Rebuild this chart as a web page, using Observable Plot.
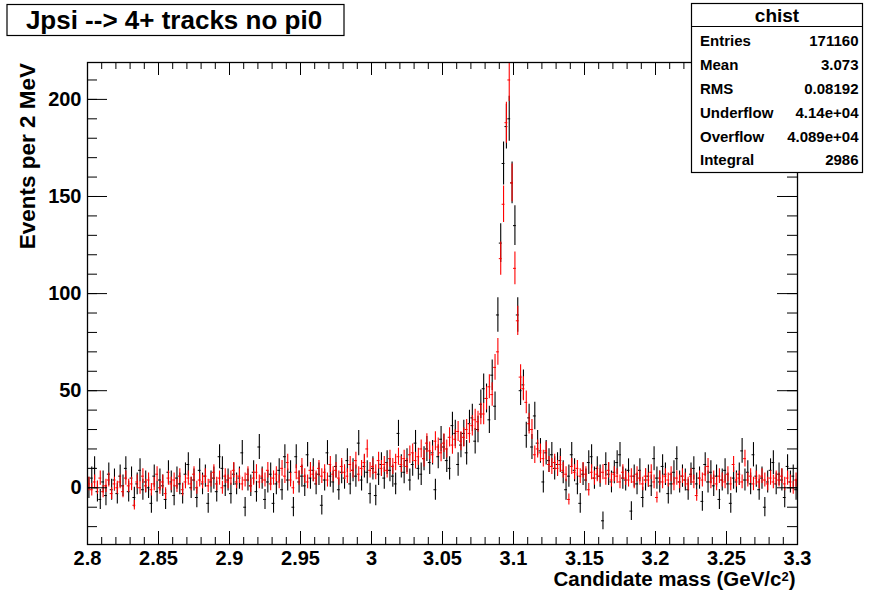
<!DOCTYPE html>
<html><head><meta charset="utf-8">
<script src="https://cdn.jsdelivr.net/npm/d3@7"></script>
<script src="https://cdn.jsdelivr.net/npm/@observablehq/plot@0.6"></script>
<style>
html,body{margin:0;padding:0;background:#fff;}
#chart{position:relative;width:869px;height:602px;}
</style></head><body><div id="chart"></div>
<script>
// ---- data ----
const titleText = "Jpsi --> 4+ tracks no pi0";
const statsName = "chist";
const statsLabels = ["Entries", "Mean", "RMS", "Underflow", "Overflow", "Integral"];
const statsValues = ["171160", "3.073", "0.08192", "4.14e+04", "4.089e+04", "2986"];
const xTitle = "Candidate mass (GeV/c";
const xTitleSup = "2";
const xTitleEnd = ")";
const yTitle = "Events per 2 MeV";
const xTicks = [2.8, 2.85, 2.9, 2.95, 3.0, 3.05, 3.1, 3.15, 3.2, 3.25, 3.3];
const xTickLabels = ["2.8", "2.85", "2.9", "2.95", "3", "3.05", "3.1", "3.15", "3.2", "3.25", "3.3"];
const yTicks = [0, 50, 100, 150, 200];
const yTickLabels = ["0", "50", "100", "150", "200"];
const xStart = 2.8;
const binWidth = 0.002;

const blackCounts = [
  0, 5, 10, -2, -6, 3, -4, 7, -1, 4,
  -3, 6, 1, 10, -2, 5, -5, 2, 9, -1,
  3, 0, -8, 6, -2, 4, 1, -6, 8, 3,
  -4, 5, 2, -3, 7, 12, 0, 4, -5, 9,
  2, 6, -8, 3, 5, -2, 16, 10, 1, 4,
  -3, 7, 2, 5, 18, -10, 4, 1, 8, -2,
  21, 5, -6, 3, 7, -8, 2, 9, -1, 16,
  4, 8, -10, 16, 3, 6, 1, 17, 5, 9,
  2, 7, -9, 4, 18, 6, 3, 11, -1, 8,
  5, 14, 2, 9, 6, 23, 4, 11, 8, -3,
  10, -4, 7, 12, 5, 13, 9, 6, 2, 28,
  11, 8, 14, 4, 12, 23, 10, 7, 15, 20,
  13, 18, -1, 16, 25, 21, 14, 10, 32, 28,
  12, 22, 28, 18, 33, 36, 24, 30, 43, 51,
  46, 35, 58, 42, 89, 126, 167, 186, 190, 157,
  135, 89, 50, 53, 27, 36, 21, 37, 23, 19,
  3, 18, 14, 17, 10, 12, 14, 8, -1, 6,
  17, 9, 2, -8, 7, 4, 13, 16, 5, 10,
  6, -17, 12, 7, 3, 8, 13, 17, 5, 4,
  9, -12, 6, 2, 9, -5, 4, 6, 1, 15,
  5, 3, 11, 7, -3, 2, 8, 15, 3, 6,
  4, -1, 7, 10, 2, 5, -7, 12, 3, 8,
  1, 6, -6, 4, 9, 2, -8, 5, 3, 7,
  19, 4, 8, 2, 17, 6, -1, 5, -10, 3,
  9, 13, 2, 7, 4, -5, 11, 3, 6, -1
];
const redCounts = [
  2, -1, 3, 0, 5, -2, 1, 4, -3, 2,
  0, 3, -2, 5, 1, 2, -9, 3, 0, 6,
  1, 4, -1, 2, 7, 0, 3, -3, 5, 2,
  4, 1, 6, -1, 3, 5, 2, 7, 0, 4,
  3, 6, 1, 4, 8, 2, 5, 0, 6, 3,
  5, 9, 3, 6, 2, 4, 7, 1, 5, 8,
  3, 6, 4, 9, 2, 5, 7, 3, 10, 6,
  13, 4, 0, 8, 5, 11, 6, 3, 9, 7,
  5, 10, 6, 8, 4, 12, 7, 9, 5, 11,
  8, 6, 12, 9, 14, 7, 10, 13, 20, 9,
  11, 8, 14, 10, 12, 9, 15, 11, 13, 16,
  12, 15, 11, 17, 18, 14, 16, 20, 15, 23,
  19, 17, 24, 21, 18, 23, 20, 26, 22, 25,
  29, 24, 26, 30, 28, 32, 35, 34, 38, 38,
  46, 52, 48, 62, 70, 118, 146, 188, 210, 157,
  113, 86, 57, 51, 44, 33, 30, 17, 20, 18,
  15, 19, 12, 11, 13, 10, 12, 9, 7, -6,
  11, 8, 10, 6, 9, 7, -1, 8, 5, 7,
  6, 8, 5, 9, 4, 7, 6, 3, 8, 5,
  4, 6, 3, 7, 5, 2, 6, 4, 8, 3,
  -5, 5, 3, 6, 4, 7, 2, 5, 3, 6,
  4, 2, 6, 3, -4, 5, 4, 7, 11, 3,
  5, 2, 6, 4, 3, 7, 2, 12, 4, 5,
  3, 15, 4, 6, 2, 5, 3, 6, 4, 2,
  5, 3, 5, 4, 6, 2, 5, 3, 0, 4
];

// ---- layout ----
const FONT = "'Liberation Sans', Arial, Helvetica, sans-serif";
const W = 869, H = 602, mL = 87, mR = 72, mT = 62, mB = 58;
const FW = W - mL - mR, FH = H - mT - mB;

// statistical error bars (Poisson-like: background-subtracted counts)
const errBlack = v => Math.sqrt(30 + 0.55 * v);
const errRed = v => Math.sqrt(11 + 0.53 * v);

const bins = blackCounts.map((v, i) => ({
  lo: xStart + i * binWidth,
  hi: xStart + (i + 1) * binWidth,
  x: xStart + (i + 0.5) * binWidth,
  b: v, eb: errBlack(v),
  r: redCounts[i], er: errRed(redCounts[i])
}));

const xMajor = xTicks;
const xMinor = d3.range(0, 51).map(k => 2.8 + k * 0.01);
const yMajor = yTicks;
const yMinor = d3.range(-20, 220, 10);
const lookup = (arr, labels) => d => { const k = arr.findIndex(t => Math.abs(t - d) < 1e-9); return k < 0 ? "" : labels[k]; };

const plot = Plot.plot({
  width: W, height: H,
  marginLeft: mL, marginRight: mR, marginTop: mT, marginBottom: mB,
  style: {fontFamily: FONT, fontSize: "20px", fontWeight: "bold", background: "white", color: "black", overflow: "visible"},
  x: {domain: [2.8, 3.3], ticks: xTicks, tickFormat: lookup(xTicks, xTickLabels), tickSize: 0, tickPadding: 6, label: null},
  y: {domain: [-29.2, 219], ticks: yTicks, tickFormat: lookup(yTicks, yTickLabels), tickSize: 0, tickPadding: 6, label: null},
  marks: [
    // black histogram
    Plot.ruleX(bins, {x: "x", y1: d => d.b - d.eb, y2: d => d.b + d.eb, stroke: "black", strokeWidth: 1.1, clip: true}),
    Plot.ruleY(bins, {y: "b", x1: "lo", x2: "hi", stroke: "black", strokeWidth: 1, clip: true}),
    // red histogram
    Plot.ruleX(bins, {x: "x", y1: d => d.r - d.er, y2: d => d.r + d.er, stroke: "#ff0000", strokeWidth: 1.1, clip: true}),
    Plot.ruleY(bins, {y: "r", x1: "lo", x2: "hi", stroke: "#ff0000", strokeWidth: 1, clip: true}),
    // inward ticks (ROOT style)
    Plot.tickX(xMajor, {x: d => d, insetTop: FH - 13, stroke: "black"}),
    Plot.tickX(xMinor, {x: d => d, insetTop: FH - 7, stroke: "black"}),
    Plot.tickX(xMajor, {x: d => d, insetBottom: FH - 13, stroke: "black"}),
    Plot.tickX(xMinor, {x: d => d, insetBottom: FH - 7, stroke: "black"}),
    Plot.tickY(yMajor, {y: d => d, insetRight: FW - 20, stroke: "black"}),
    Plot.tickY(yMinor, {y: d => d, insetRight: FW - 10, stroke: "black"}),
    Plot.tickY(yMajor, {y: d => d, insetLeft: FW - 20, stroke: "black"}),
    Plot.tickY(yMinor, {y: d => d, insetLeft: FW - 10, stroke: "black"}),
    Plot.frame({stroke: "black", strokeWidth: 1.3})
  ]
});
document.getElementById("chart").appendChild(plot);

// ---- annotations: titles and boxes ----
const svg = d3.select(plot);
const g = svg.append("g").attr("font-family", FONT).attr("font-weight", "bold").attr("fill", "black");

// y title
g.append("text").attr("transform", "translate(35,63) rotate(-90)")
  .attr("text-anchor", "end").attr("font-size", 22.5).text(yTitle);

// x title
const xt = g.append("text").attr("x", 795.5).attr("y", 586).attr("text-anchor", "end").attr("font-size", 20.5);
xt.append("tspan").text(xTitle);
xt.append("tspan").attr("font-size", 13).attr("dy", -5.5).text(xTitleSup);
xt.append("tspan").attr("dy", 5.5).text(xTitleEnd);

// title box
g.append("rect").attr("x", 7).attr("y", 4.5).attr("width", 337).attr("height", 31)
  .attr("fill", "white").attr("stroke", "black").attr("stroke-width", 1.2);
g.append("text").attr("x", 174).attr("y", 28.5).attr("text-anchor", "middle").attr("font-size", 26).text(titleText);

// stats box
g.append("rect").attr("x", 691.5).attr("y", 3.5).attr("width", 171).attr("height", 169)
  .attr("fill", "white").attr("stroke", "black").attr("stroke-width", 1.2);
g.append("line").attr("x1", 691.5).attr("x2", 862.5).attr("y1", 26.5).attr("y2", 26.5)
  .attr("stroke", "black").attr("stroke-width", 1);
g.append("text").attr("x", 777).attr("y", 22).attr("text-anchor", "middle").attr("font-size", 19).text(statsName);
const rowY = [45.5, 69.5, 93.5, 117.5, 141.5, 165];
statsLabels.forEach((lab, k) => {
  g.append("text").attr("x", 700).attr("y", rowY[k]).attr("text-anchor", "start").attr("font-size", 15).text(lab);
  g.append("text").attr("x", 858.5).attr("y", rowY[k]).attr("text-anchor", "end").attr("font-size", 15).text(statsValues[k]);
});
</script>
</body></html>
